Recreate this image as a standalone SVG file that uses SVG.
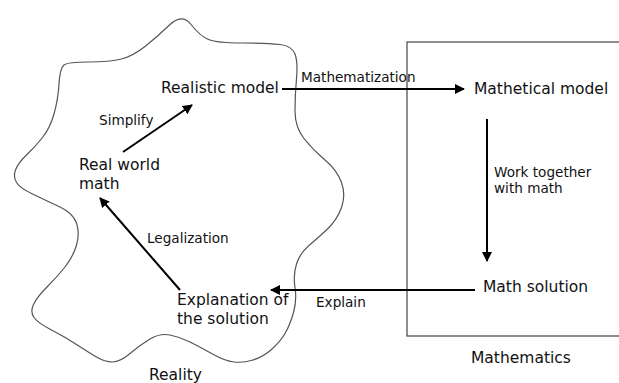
<svg xmlns="http://www.w3.org/2000/svg" width="619" height="383" viewBox="0 0 619 383">
<style>
text{font-family:"DejaVu Sans","Verdana",sans-serif;fill:#111}
.n{font-size:15.5px}
.e{font-size:13.6px}
.c{stroke:#000;stroke-width:2;fill:none;marker-end:url(#ah)}
</style>
<defs>
<marker id="ah" viewBox="0 0 10 10" refX="9" refY="5" markerWidth="5" markerHeight="5" orient="auto" markerUnits="strokeWidth">
<path d="M0,0 L10,5 L0,10 z" fill="#000"/>
</marker>
</defs>
<rect width="619" height="383" fill="#fff"/>
<g id="reality">
<path d="M 169.5,25 Q 182,13 191,24.5 Q 200,36 208.5,39.5 Q 217,43 242.5,43 Q 268,43 280,44.5 Q 292,46 295,54 Q 298,62 296.5,78.5 Q 295,95 295,111 Q 295,127 304,138.5 Q 313,150 325,160 Q 337,170 341.5,182.5 Q 346,195 341.5,207.5 Q 337,220 327.5,229 Q 318,238 309,245.5 Q 300,253 296.5,264 Q 293,275 295,287.5 Q 297,300 293.5,312.5 Q 290,325 285,333.5 Q 280,342 271.5,349.5 Q 263,357 253,360 Q 243,363 234,362 Q 225,361 212.5,354 Q 200,347 190,342 Q 180,337 170,335 Q 160,333 150,339 Q 140,345 130,353.5 Q 120,362 112.5,362 Q 105,362 96.5,357 Q 88,352 76.5,344.5 Q 65,337 51.5,330 Q 38,323 34,317.5 Q 30,312 33.5,304.5 Q 37,297 47,287 Q 57,277 65,267 Q 73,257 76.5,245 Q 80,233 76.5,223 Q 73,213 59,206.5 Q 45,200 32.5,194 Q 20,188 16.5,182.5 Q 13,177 15.5,170 Q 18,163 26.5,155 Q 35,147 42.5,137.5 Q 50,128 54,114 Q 58,100 59,84 Q 60,68 64,65 Q 68,62 89,62 Q 110,62 121.5,59 Q 133,56 145,46.5 Q 157,37 169.5,25 Z" fill="none" stroke="#555" stroke-width="1.2"/>
<text class="n" x="149" y="380">Reality</text>
</g>
<g id="mathematics">
<rect x="407" y="42" width="230" height="294" fill="none" stroke="#444" stroke-width="1.2"/>
<text class="n" x="471" y="363">Mathematics</text>
</g>
<g id="realistic-model"><text class="n" x="161" y="93">Realistic model</text></g>
<g id="mathetical-model"><text class="n" x="474" y="94">Mathetical model</text></g>
<g id="real-world-math"><text class="n" x="79" y="170">Real world</text><text class="n" x="79" y="189">math</text></g>
<g id="explanation"><text class="n" x="177" y="305">Explanation of</text><text class="n" x="177" y="324">the solution</text></g>
<g id="math-solution"><text class="n" x="483" y="292">Math solution</text></g>
<g id="connectors">
<line class="c" x1="282" y1="89" x2="464" y2="89"/>
<text class="e" x="301" y="82">Mathematization</text>
<line class="c" x1="123" y1="152" x2="192" y2="105"/>
<text class="e" x="99" y="125">Simplify</text>
<line class="c" x1="487" y1="119" x2="487" y2="261"/>
<text class="e" x="494" y="177">Work together</text>
<text class="e" x="494" y="193">with math</text>
<line class="c" x1="475" y1="290" x2="271" y2="290"/>
<text class="e" x="316" y="307">Explain</text>
<line class="c" x1="180" y1="290" x2="100" y2="198"/>
<text class="e" x="147" y="243">Legalization</text>
</g>
</svg>
